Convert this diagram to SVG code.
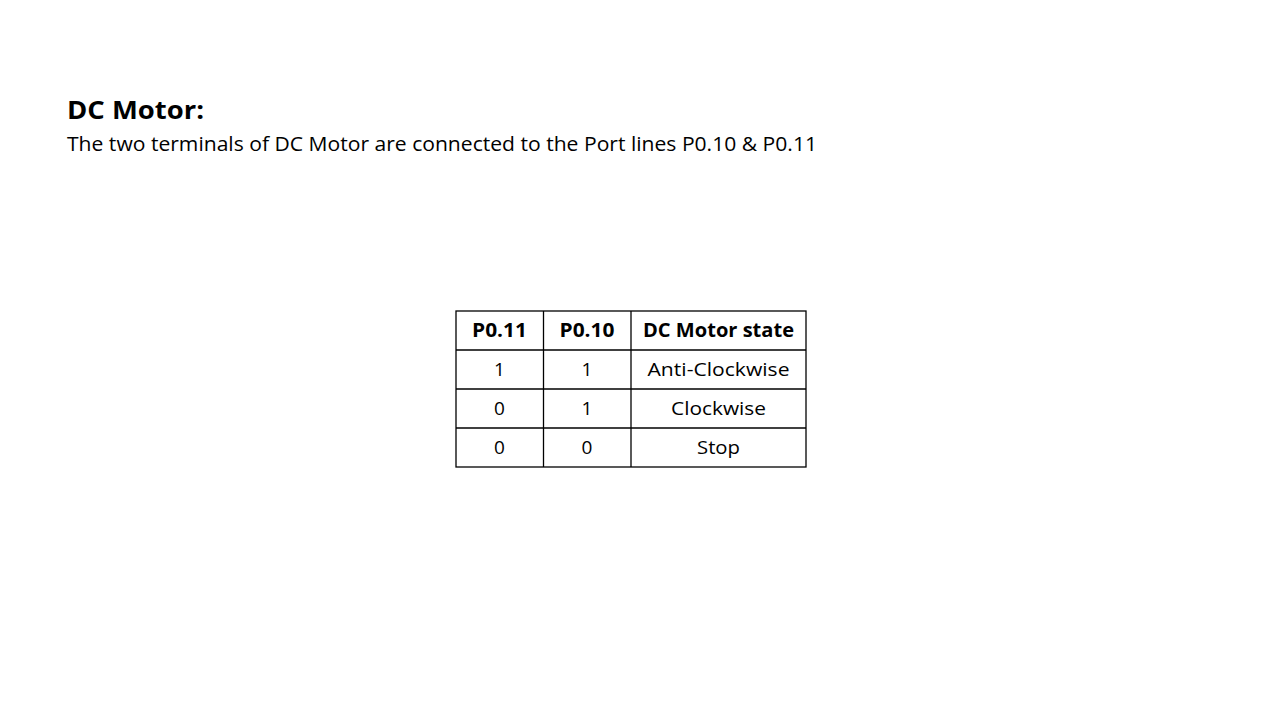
<svg xmlns="http://www.w3.org/2000/svg" width="1280" height="720" viewBox="0 0 1280 720">
<style>
text{font-family:"Open Sans","Liberation Sans",sans-serif;fill:#000}
.t{font-size:25px;font-weight:bold}
.s{font-size:19.5px}
.h{font-size:19px;font-weight:bold;text-anchor:middle}
.c{font-size:19px;text-anchor:middle}
.g{stroke:#000;stroke-width:1.3;fill:none}
</style>
<rect width="1280" height="720" fill="#fff"/>
<g id="title">
<text class="t" x="67" y="119" textLength="137" lengthAdjust="spacingAndGlyphs">DC Motor:</text>
<text class="s" x="67" y="151" textLength="750" lengthAdjust="spacingAndGlyphs">The two terminals of DC Motor are connected to the Port lines P0.10 &amp; P0.11</text>
</g>
<g id="table">
<rect class="g" x="456" y="311" width="350" height="156"/>
<line class="g" x1="543.5" y1="311" x2="543.5" y2="467"/>
<line class="g" x1="631" y1="311" x2="631" y2="467"/>
<line class="g" x1="456" y1="350" x2="806" y2="350"/>
<line class="g" x1="456" y1="389" x2="806" y2="389"/>
<line class="g" x1="456" y1="428" x2="806" y2="428"/>
<text class="h" x="499.5" y="337" textLength="55" lengthAdjust="spacingAndGlyphs">P0.11</text>
<text class="h" x="587" y="337" textLength="55" lengthAdjust="spacingAndGlyphs">P0.10</text>
<text class="h" x="718.5" y="337" textLength="151" lengthAdjust="spacingAndGlyphs">DC Motor state</text>
<text class="c" x="499.5" y="376">1</text>
<text class="c" x="587" y="376">1</text>
<text class="c" x="718.5" y="376" textLength="142" lengthAdjust="spacingAndGlyphs">Anti-Clockwise</text>
<text class="c" x="499.5" y="415">0</text>
<text class="c" x="587" y="415">1</text>
<text class="c" x="718.5" y="415" textLength="95" lengthAdjust="spacingAndGlyphs">Clockwise</text>
<text class="c" x="499.5" y="454">0</text>
<text class="c" x="587" y="454">0</text>
<text class="c" x="718.5" y="454" textLength="43" lengthAdjust="spacingAndGlyphs">Stop</text>
</g>
</svg>
